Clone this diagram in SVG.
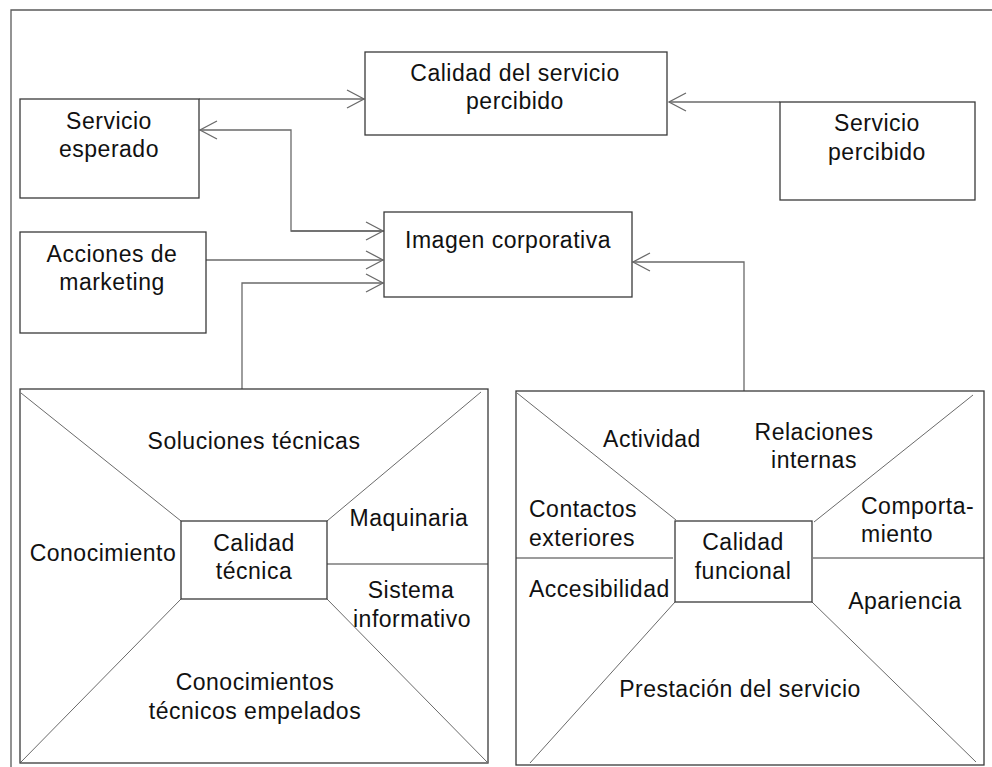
<svg xmlns="http://www.w3.org/2000/svg" width="992" height="767" viewBox="0 0 992 767">
<defs>
<style>
.box{fill:#ffffff;stroke:#3a3a3a;stroke-width:1.3}
.frame{fill:none;stroke:#5a5a5a;stroke-width:1.3}
.con{fill:none;stroke:#6a6a6a;stroke-width:1.3}
.div{fill:none;stroke:#6a6a6a;stroke-width:1}
.sep{fill:none;stroke:#3a3a3a;stroke-width:1.2}
text{font-family:"Liberation Sans",Arial,sans-serif;font-size:23px;letter-spacing:0.5px;fill:#111111}
.c{text-anchor:middle}
</style>
<marker id="arr" viewBox="0 0 20 20" refX="18" refY="10" markerWidth="20" markerHeight="20" markerUnits="userSpaceOnUse" orient="auto">
<path d="M1,1 L18,10 L1,19" fill="none" stroke="#6a6a6a" stroke-width="1.3"/>
</marker>
</defs>
<rect width="992" height="767" fill="#ffffff"/>
<path class="frame" d="M11,767 L11,10 L992,10"/>

<g id="connectors">
<path class="con" d="M199,99 L364,99" marker-end="url(#arr)"/>
<path class="con" d="M780,102 L669,102" marker-end="url(#arr)"/>
<path class="con" d="M384,231 L291,231 L291,130 L200,130" marker-end="url(#arr)"/>
<path class="con" d="M291,231 L383,231" marker-end="url(#arr)"/>
<path class="con" d="M206,260 L383,260" marker-end="url(#arr)"/>
<path class="con" d="M242,389 L242,283 L383,283" marker-end="url(#arr)"/>
<path class="con" d="M744,519 L744,262 L633,262" marker-end="url(#arr)"/>
</g>

<g id="calidad-servicio-percibido">
<rect class="box" x="365" y="52" width="302" height="83"/>
<text class="c" x="515" y="81">Calidad del servicio</text>
<text class="c" x="515" y="109">percibido</text>
</g>

<g id="servicio-esperado">
<rect class="box" x="20" y="99" width="179" height="99"/>
<text class="c" x="109" y="129">Servicio</text>
<text class="c" x="109" y="157">esperado</text>
</g>

<g id="servicio-percibido">
<rect class="box" x="780" y="102" width="195" height="98"/>
<text class="c" x="877" y="131">Servicio</text>
<text class="c" x="877" y="160">percibido</text>
</g>

<g id="acciones-marketing">
<rect class="box" x="20" y="232" width="186" height="101"/>
<text class="c" x="112" y="262">Acciones de</text>
<text class="c" x="112" y="290">marketing</text>
</g>

<g id="imagen-corporativa">
<rect class="box" x="384" y="212" width="248" height="85"/>
<text class="c" x="508" y="248">Imagen corporativa</text>
</g>

<g id="calidad-tecnica-panel">
<rect class="box" x="20" y="389" width="468" height="374"/>
<line class="div" x1="21" y1="393" x2="181" y2="521"/>
<line class="div" x1="481" y1="392" x2="327" y2="521"/>
<line class="div" x1="21" y1="762" x2="181" y2="599"/>
<line class="div" x1="488" y1="763" x2="327" y2="599"/>
<line class="sep" x1="327" y1="564" x2="488" y2="564"/>
<text class="c" x="254" y="449">Soluciones técnicas</text>
<text class="c" x="103" y="561">Conocimiento</text>
<text class="c" x="409" y="526">Maquinaria</text>
<text class="c" x="411" y="598">Sistema</text>
<text class="c" x="412" y="627">informativo</text>
<text class="c" x="255" y="690">Conocimientos</text>
<text class="c" x="255" y="719">técnicos empelados</text>
</g>
<g id="calidad-tecnica">
<rect class="box" x="181" y="521" width="146" height="78"/>
<text class="c" x="254" y="551">Calidad</text>
<text class="c" x="254" y="579">técnica</text>
</g>

<g id="calidad-funcional-panel">
<rect class="box" x="516" y="391" width="468" height="374"/>
<line class="div" x1="517" y1="393" x2="676" y2="520"/>
<line class="div" x1="973" y1="395" x2="814" y2="522"/>
<line class="div" x1="530" y1="763" x2="675" y2="602"/>
<line class="div" x1="976" y1="762" x2="812" y2="602"/>
<line class="sep" x1="516" y1="558" x2="673" y2="558"/>
<line class="sep" x1="813" y1="558" x2="984" y2="558"/>
<text class="c" x="652" y="447">Actividad</text>
<text class="c" x="814" y="440">Relaciones</text>
<text class="c" x="814" y="468">internas</text>
<text x="529" y="517">Contactos</text>
<text x="529" y="546">exteriores</text>
<text x="529" y="597">Accesibilidad</text>
<text x="861" y="514">Comporta-</text>
<text x="861" y="542">miento</text>
<text class="c" x="905" y="609">Apariencia</text>
<text class="c" x="740" y="697">Prestación del servicio</text>
</g>
<g id="calidad-funcional">
<rect class="box" x="675" y="521" width="137" height="81"/>
<text class="c" x="743" y="550">Calidad</text>
<text class="c" x="743" y="579">funcional</text>
</g>
</svg>
